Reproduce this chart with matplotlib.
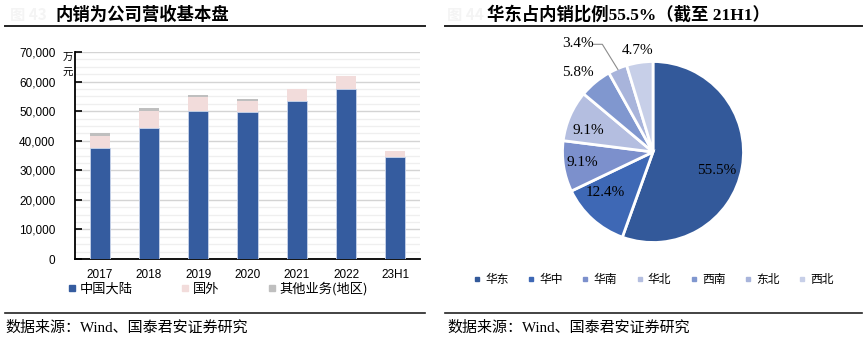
import matplotlib
matplotlib.use("Agg")
import matplotlib.pyplot as plt
from matplotlib.lines import Line2D
import numpy as np

plt.rcParams['font.family'] = ['Liberation Sans', 'Noto Sans CJK SC']

# ---- 内销营收（万元）
years = ["2017", "2018", "2019", "2020", "2021", "2022", "23H1"]
mainland = [37500, 44200, 50150, 49700, 53500, 57400, 34500]
overseas = [4100, 5950, 4750, 3850, 3850, 4600, 2000]
other = [900, 800, 550, 450, 0, 0, 0]
bar_series = ["中国大陆", "国外", "其他业务(地区)"]
y_ticks = [0, 10000, 20000, 30000, 40000, 50000, 60000, 70000]

# ---- 内销区域占比（截至21H1）
regions = ["华东", "华中", "华南", "华北", "西南", "东北", "西北"]
shares = [55.5, 12.4, 9.1, 9.1, 5.8, 3.4, 4.7]

c_main, c_over, c_other = "#355c9f", "#f2dcdb", "#bfbfbf"
pie_colors = ["#33599a", "#3e68b5", "#7c90cc", "#b4bee0", "#8097cf", "#a8b4db", "#c7cfe8"]

W, H = 866, 345
fig = plt.figure(figsize=(W / 100, H / 100), dpi=100)

def fx(px):
    return px / W

def fy(py):
    return 1 - py / H

cjk = ['Noto Sans CJK SC']
serif_cjk = ['Liberation Serif', 'Noto Sans CJK SC']

# titles, rules, sources
fig.text(fx(10), fy(15), "图 43", color="#f4f4f4", fontsize=11, family=cjk,
         weight="bold", va="center")
fig.text(fx(55), fy(15), "内销为公司营收基本盘", fontsize=12.5, family=cjk,
         weight="bold", va="center")
fig.text(fx(447), fy(15), "图 44", color="#f4f4f4", fontsize=11, family=cjk,
         weight="bold", va="center")
fig.text(fx(487), fy(15), "华东占内销比例55.5%（截至 21H1）", fontsize=12.5,
         family=serif_cjk, weight="bold", va="center")
for x0, x1 in [(5, 425), (445, 862)]:
    fig.add_artist(Line2D([fx(x0), fx(x1)], [fy(26), fy(26)], color="#222222", lw=1.4))
    fig.add_artist(Line2D([fx(x0), fx(x1)], [fy(313), fy(313)], color="#222222", lw=1.2))
fig.text(fx(5), fy(328), "数据来源：Wind、国泰君安证券研究", fontsize=10.8,
         family=serif_cjk, va="center")
fig.text(fx(447), fy(328), "数据来源：Wind、国泰君安证券研究", fontsize=10.8,
         family=serif_cjk, va="center")

# ---- stacked bars
ax = fig.add_axes([fx(75), fy(259), fx(420) - fx(75), fy(52) - fy(259)])
x = np.arange(len(years))
w = 0.41
mainland_a = np.array(mainland)
overseas_a = np.array(overseas)
other_a = np.array(other)
ax.bar(x, mainland_a, w, color=c_main, edgecolor="#c9d4ea", linewidth=0.6, zorder=3)
ax.bar(x, overseas_a, w, bottom=mainland_a, color=c_over, zorder=3)
ax.bar(x, other_a, w, bottom=mainland_a + overseas_a, color=c_other, zorder=3)
ax.set_xlim(-0.5, len(years) - 0.5)
ax.set_ylim(0, 70000)
ax.set_yticks(y_ticks)
ax.set_yticklabels([f"{v:,}" for v in y_ticks], fontsize=8.5)
ax.set_yticks(np.arange(0, 70001, 2500), minor=True)
ax.set_xticks(x)
ax.set_xticklabels(years, fontsize=8.5)
ax.tick_params(axis="y", which="major", direction="in", length=5, width=1.2, pad=14)
ax.tick_params(axis="y", which="minor", length=0)
ax.tick_params(axis="x", length=0, pad=7)
ax.grid(axis="y", which="major", color="#d4d4d4", lw=1.0, zorder=0)
ax.grid(axis="y", which="minor", color="#efefef", lw=0.9, zorder=0)
for s in ["top", "right"]:
    ax.spines[s].set_visible(False)
ax.spines["left"].set_linewidth(1.3)
ax.spines["bottom"].set_linewidth(1.3)
fig.text(fx(68), fy(58), "万", fontsize=7.5, family=cjk, ha="center", va="center")
fig.text(fx(68), fy(73), "元", fontsize=7.5, family=cjk, ha="center", va="center")

bar_handles = [Line2D([], [], marker="s", ls="none", color=c, markersize=4.5)
               for c in (c_main, c_over, c_other)]
fig.legend(bar_handles, bar_series, loc="center left",
           bbox_to_anchor=(fx(69), fy(289)), ncol=3, frameon=False,
           prop={"family": cjk, "size": 9.5}, handlelength=0.5, handletextpad=0.35,
           columnspacing=3.7, borderpad=0, borderaxespad=0)

# ---- pie
cx, cy, r = 653, 152, 90.5
pax = fig.add_axes([fx(cx - r), fy(cy + r), fx(2 * r), fy(cy - r) - fy(cy + r)])
wedges, _ = pax.pie(shares, colors=pie_colors, startangle=90, counterclock=False,
                    wedgeprops={"edgecolor": "white", "linewidth": 2.0})
pax.set_xlim(-1, 1)
pax.set_ylim(-1, 1)
pax.set_aspect("auto")
pax.axis("off")

label_pos = [(0.70, -0.20), (-0.53, -0.45), (-0.78, -0.12), (-0.72, 0.24),
             (-0.83, 0.88), (-0.83, 1.20), (-0.17, 1.12)]
for v, (tx, ty) in zip(shares, label_pos):
    pax.text(tx, ty, f"{v:.1f}%", fontsize=11, family="Liberation Serif",
             ha="center", va="center", clip_on=False)

# leader line for the small 东北 slice
wg = wedges[5]
mid = np.deg2rad((wg.theta1 + wg.theta2) / 2)
ex, ey = 0.99 * np.cos(mid), 0.99 * np.sin(mid)
pax.plot([-0.66, -0.56, ex], [1.19, 1.19, ey], color="#8c8c8c", lw=0.8, clip_on=False)

pie_handles = [Line2D([], [], marker="s", ls="none", color=c, markersize=3.5)
               for c in pie_colors]
fig.legend(pie_handles, regions, loc="center", bbox_to_anchor=(fx(654), fy(280)),
           ncol=7, frameon=False, prop={"family": cjk, "size": 8.5},
           handlelength=0.5, handletextpad=0.45, columnspacing=1.65,
           borderpad=0, borderaxespad=0)

fig.savefig("out.png", dpi=100)
